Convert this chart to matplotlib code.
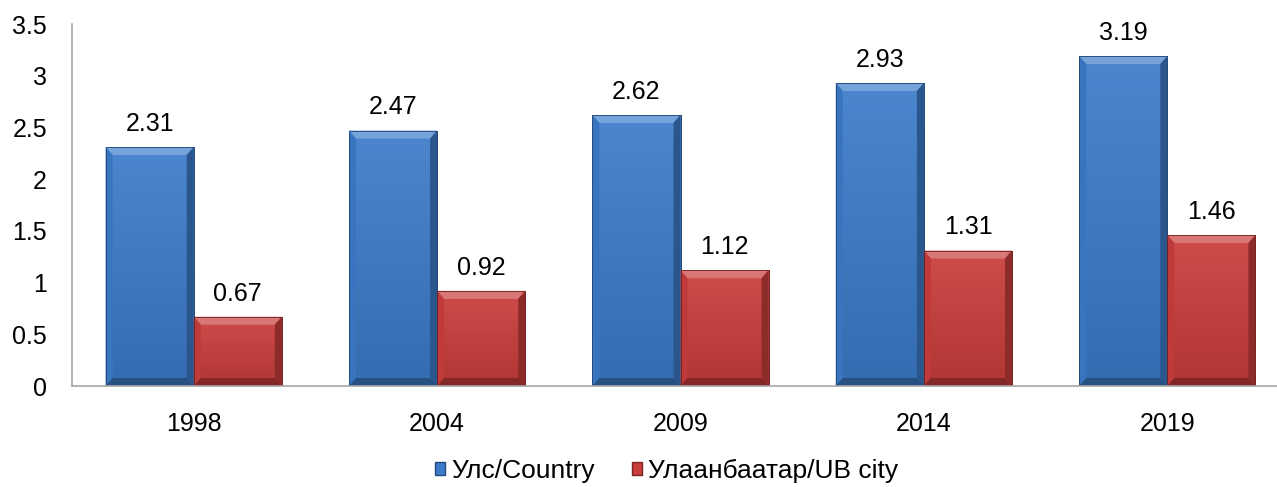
import numpy as np
import matplotlib.pyplot as plt
from matplotlib.patches import Polygon, Patch

plt.rcParams['font.family'] = ['Liberation Sans', 'DejaVu Sans']

years = ['1998', '2004', '2009', '2014', '2019']
country = [2.31, 2.47, 2.62, 2.93, 3.19]
ub_city = [0.67, 0.92, 1.12, 1.31, 1.46]
series_names = ['Улс/Country', 'Улаанбаатар/UB city']

blue = '#3C7BC9'
red = '#C93D3B'
fs = 18

fig = plt.figure(figsize=(12.77, 4.87), dpi=100)
ax = fig.add_axes([72 / 1277, 1 - 386 / 487, (1289 - 72) / 1277, (386 - 24) / 487])

x = np.arange(len(years))
w = 0.362
ax.set_xlim(-0.5, len(years) - 0.5)
ax.set_ylim(0, 3.5)


def shade(c, f):
    c = np.array(plt.matplotlib.colors.to_rgb(c))
    if f > 0:
        return tuple(c + (1 - c) * f)
    return tuple(c * (1 + f))


def bevel_bars(xs, vals, color):
    bars = ax.bar(xs, vals, w, color=color, edgecolor=shade(color, -0.45), linewidth=0.6, zorder=2)
    # pixel -> data scale for the bevel
    px_x = ax.bbox.width / (ax.get_xlim()[1] - ax.get_xlim()[0])
    px_y = ax.bbox.height / (ax.get_ylim()[1] - ax.get_ylim()[0])
    dx, dy = 7 / px_x, 8 / px_y
    for b in bars:
        x0, y0 = b.get_x(), b.get_y()
        x1, y1 = x0 + b.get_width(), y0 + b.get_height()
        # vertical gradient on the face
        grad = np.linspace(0, 1, 64).reshape(-1, 1)
        top_c = np.array(shade(color, 0.08))
        bot_c = np.array(shade(color, -0.12))
        img = bot_c + (top_c - bot_c) * grad
        im = ax.imshow(img[:, None, :].repeat(2, axis=1), extent=(x0, x1, y0, y1),
                       origin='lower', aspect='auto', zorder=2.1)
        im.set_clip_path(b)
        faces = [
            ([(x0, y1), (x1, y1), (x1 - dx, y1 - dy), (x0 + dx, y1 - dy)], shade(color, 0.3)),
            ([(x0, y0), (x0, y1), (x0 + dx, y1 - dy), (x0 + dx, y0 + dy)], shade(color, -0.05)),
            ([(x1, y0), (x1, y1), (x1 - dx, y1 - dy), (x1 - dx, y0 + dy)], shade(color, -0.3)),
            ([(x0, y0), (x1, y0), (x1 - dx, y0 + dy), (x0 + dx, y0 + dy)], shade(color, -0.35)),
        ]
        for pts, fc in faces:
            ax.add_patch(Polygon(pts, closed=True, facecolor=fc, edgecolor='none', zorder=2.2))
        ax.add_patch(plt.Rectangle((x0, y0), x1 - x0, y1 - y0, fill=False,
                                   edgecolor=shade(color, -0.45), linewidth=0.6, zorder=2.3))
    for xi, v in zip(xs, vals):
        ax.annotate(f'{v:.2f}', (xi, v), xytext=(0, 8), textcoords='offset points',
                    ha='center', va='bottom', fontsize=fs, color='black')


bevel_bars(x - w / 2, country, blue)
bevel_bars(x + w / 2, ub_city, red)

ax.set_xticks(x)
ax.set_xticklabels(years)
ax.set_yticks(np.arange(0, 3.51, 0.5))
ax.set_yticklabels(['0', '0.5', '1', '1.5', '2', '2.5', '3', '3.5'])
ax.tick_params(axis='both', length=0, labelsize=fs)
ax.tick_params(axis='y', pad=18)
ax.tick_params(axis='x', pad=19)
for s in ['top', 'right']:
    ax.spines[s].set_visible(False)
for s in ['left', 'bottom']:
    ax.spines[s].set_color('#A6A6A6')
    ax.spines[s].set_linewidth(1.2)

handles = [Patch(facecolor=blue, edgecolor=shade(blue, -0.4)),
           Patch(facecolor=red, edgecolor=shade(red, -0.4))]
fig.legend(handles, series_names, loc='lower center', bbox_to_anchor=(0.522, -0.04),
           ncol=2, frameon=False, fontsize=19, handlelength=0.38, handleheight=0.38,
           handletextpad=0.25, columnspacing=1.4)

fig.savefig('out.png', dpi=100)
